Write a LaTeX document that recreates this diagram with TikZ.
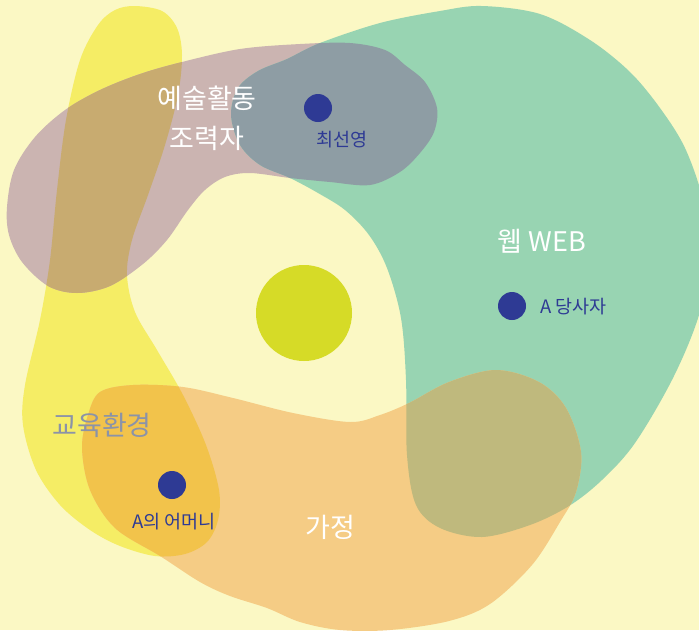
\documentclass[tikz,border=0pt]{standalone}
\usepackage{fontspec}
\newfontfamily\kr{Noto Sans CJK KR}
\definecolor{bg}{HTML}{FBF8C4}
\definecolor{yel}{HTML}{F5ED65}
\definecolor{mauve}{HTML}{CBB4B1}
\definecolor{mauveyel}{HTML}{C8AB70}
\definecolor{webgreen}{HTML}{98D4B2}
\definecolor{webgray}{HTML}{8E9DA4}
\definecolor{homeorange}{HTML}{F5CC85}
\definecolor{orangeyel}{HTML}{F2C34B}
\definecolor{olive}{HTML}{BFB97D}
\definecolor{core}{HTML}{D6DB27}
\definecolor{navy}{HTML}{2E3A94}
\definecolor{edu}{HTML}{8B93A8}
\def\yellowblob{plot[smooth cycle,tension=0.55] coordinates {(135,6) (162,11) (177,28) (182,55) (178,95) (165,145) (148,195) (132,240) (127,275) (135,312) (157,350) (183,395) (206,445) (219,490) (218,520) (207,542) (185,554) (155,556) (120,546) (90,530) (60,505) (36,470) (23,425) (25,385) (40,320) (50,260) (57,190) (66,120) (80,60) (98,25) (115,10)}}
\def\mauveblob{plot[smooth cycle,tension=0.55] coordinates {(7,207) (14,170) (35,137) (65,110) (100,90) (140,74) (182,62) (240,49) (300,44) (350,43) (385,50) (405,65) (425,82) (437,108) (434,132) (420,153) (400,172) (370,185) (330,182) (290,178) (250,173) (225,177) (205,190) (188,210) (167,240) (143,264) (110,286) (77,293) (48,286) (22,262) (9,235)}}
\def\greenblob{plot[smooth cycle,tension=0.55] coordinates {(320,43) (380,23) (440,11) (482,6) (540,14) (590,40) (630,72) (660,108) (685,148) (703,200) (710,255) (699,315) (673,378) (635,443) (602,480) (569,506) (530,525) (482,537) (440,528) (416,505) (407,455) (406,380) (401,318) (387,268) (369,235) (345,210) (318,193) (290,178) (260,165) (240,145) (231,115) (238,88) (258,71) (287,59)}}
\def\orangeblob{plot[smooth cycle,tension=0.55] coordinates {(100,392) (133,385) (183,387) (233,398) (293,413) (350,422) (380,415) (409,403) (449,382) (496,370) (539,382) (566,408) (581,452) (576,492) (560,522) (532,565) (490,604) (449,621) (390,630) (340,630) (300,622) (267,608) (230,596) (200,582) (160,556) (115,528) (90,490) (82,448) (88,415)}}
\begin{document}
\begin{tikzpicture}[x=1pt,y=-1pt,
  big/.style={font=\kr\fontsize{27}{40}\selectfont, inner sep=0pt, align=center},
  small/.style={font=\kr\fontsize{18.5}{22}\selectfont, inner sep=0pt, text=navy},
  dot/.style={circle, fill=navy, minimum size=28pt, inner sep=0pt}]
\useasboundingbox (0,0) rectangle (699,630);
\clip (0,0) rectangle (699,630);
\fill[bg] (0,0) rectangle (699,630);
% blobs
\fill[yel] \yellowblob;
\fill[mauve] \mauveblob;
\fill[webgreen] \greenblob;
\fill[homeorange] \orangeblob;
% overlaps
\begin{scope}
  \clip \yellowblob;
  \fill[mauveyel] \mauveblob;
\end{scope}
\begin{scope}
  \clip \mauveblob;
  \fill[webgray] \greenblob;
\end{scope}
\begin{scope}
  \clip \orangeblob;
  \fill[orangeyel] \yellowblob;
\end{scope}
\begin{scope}
  \clip \orangeblob;
  \fill[olive] \greenblob;
\end{scope}
% centre
\node[circle, fill=core, minimum size=96pt, inner sep=0pt] (core) at (304,313) {};
% dots
\node[dot] (choi) at (318,108) {};
\node[dot] (party) at (512,306) {};
\node[dot] (mother) at (172,485) {};
% labels
\node[big, text=white] (artlab) at (207,118) {예술활동\\조력자};
\node[big, text=white] (weblab) at (542,241) {웹 WEB};
\node[big, text=edu] (edulab) at (102,425) {교육환경};
\node[big, text=white] (homelab) at (330,527) {가정};
\node[small] (choilab) at (342,140) {최선영};
\node[small, anchor=west] (partylab) at (540,307) {A 당사자};
\node[small] (motherlab) at (174,522) {A의 어머니};
\end{tikzpicture}
\end{document}
